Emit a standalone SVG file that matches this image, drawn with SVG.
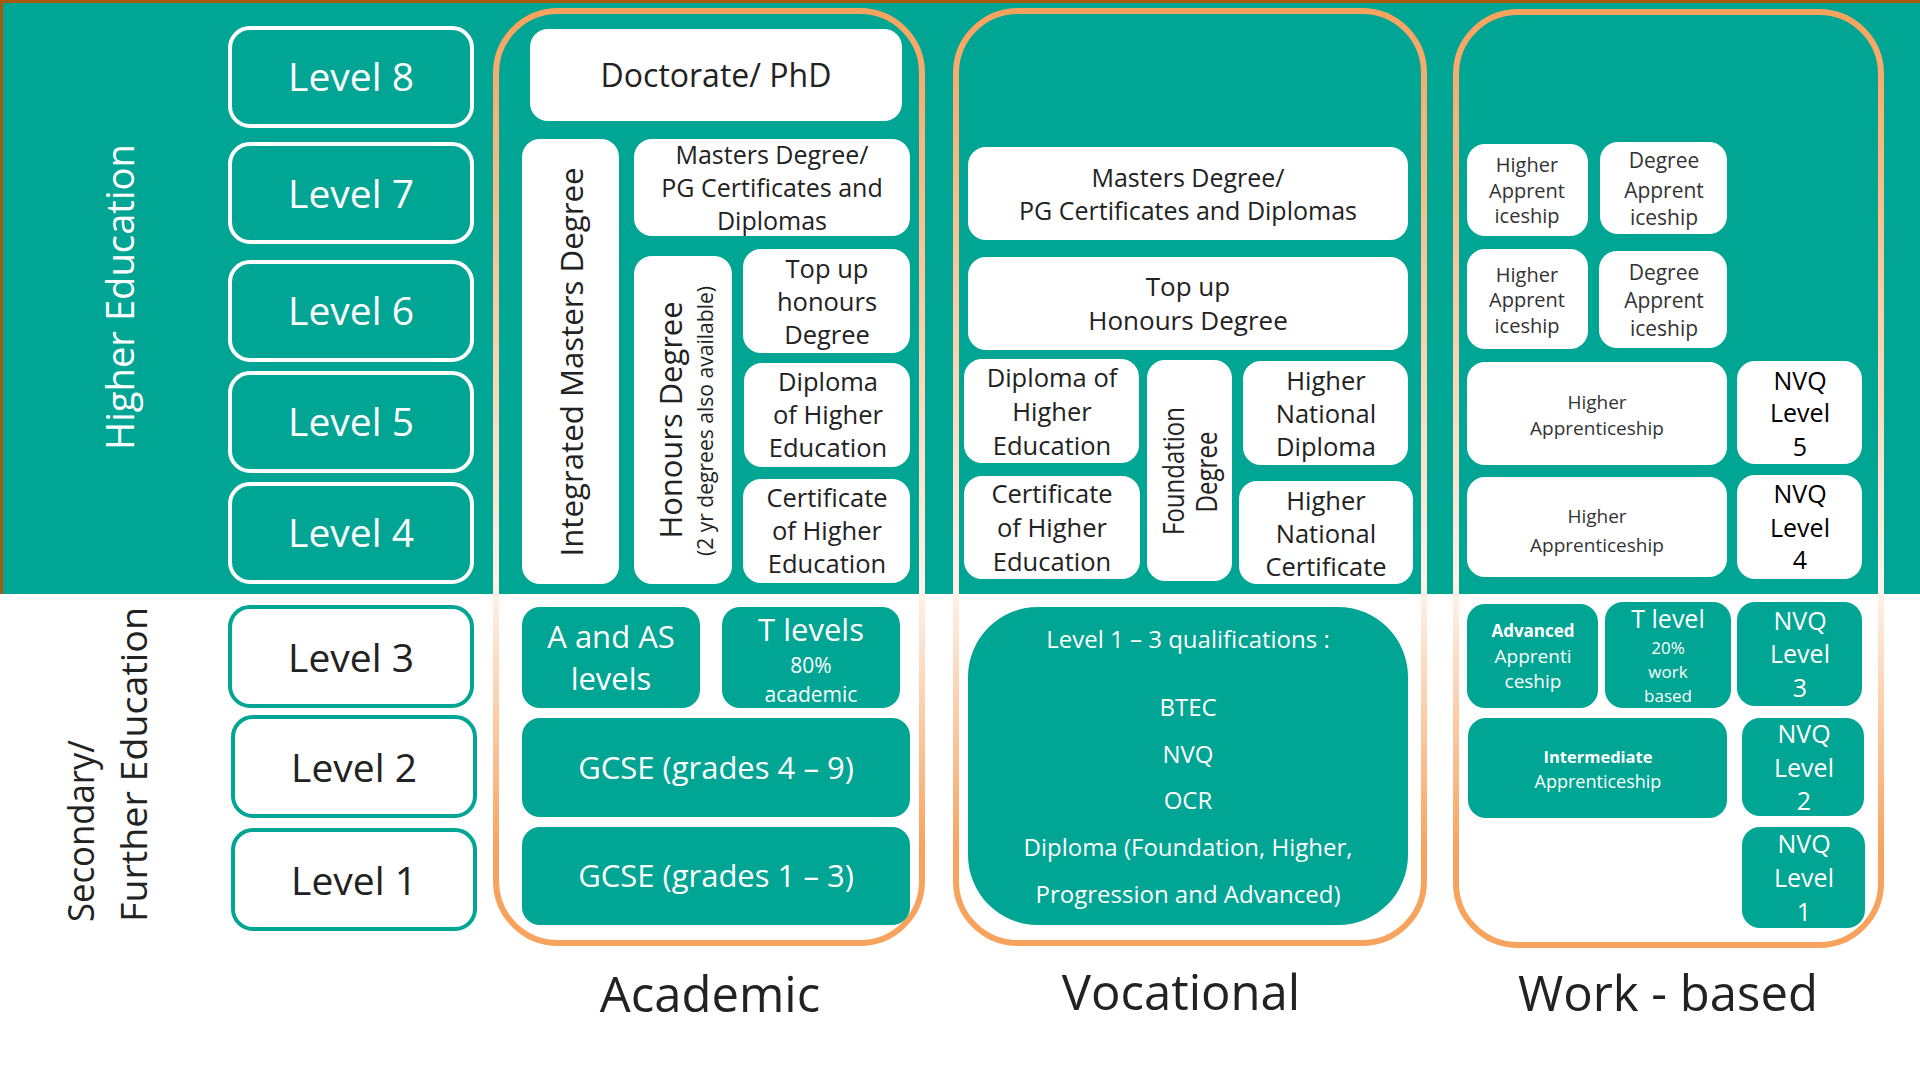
<svg xmlns="http://www.w3.org/2000/svg" width="1920" height="1080" viewBox="0 0 1920 1080">
<defs>
<linearGradient id="fg" gradientUnits="userSpaceOnUse" x1="0" y1="10" x2="0" y2="945">
<stop offset="0" stop-color="#F7A35E"/>
<stop offset="0.62" stop-color="#FEF3EB"/>
<stop offset="0.9" stop-color="#F7A35E"/>
<stop offset="1" stop-color="#F7A35E"/>
</linearGradient>
<style>
text{font-family:"Open Sans","DejaVu Sans",sans-serif}
.m{text-anchor:middle}
.d{fill:#222}
.k{fill:#000}
.g{fill:#333}
.w{fill:#fff}
.b{font-weight:bold}
.wbox{fill:#fff}
.tbox{fill:#00A593}
.lu{fill:none;stroke:#fff;stroke-width:4}
.ll{fill:#fff;stroke:#00A593;stroke-width:4}
.frame{fill:none;stroke:url(#fg);stroke-width:6}
</style>
</defs>
<rect x="0" y="0" width="1920" height="1080" fill="#fff"/>
<rect x="0" y="0" width="1920" height="594" fill="#00A593"/>
<rect x="0" y="0" width="1920" height="3" fill="#A65A0A"/>
<rect x="0" y="0" width="3" height="594" fill="#A65A0A"/>

<g id="section-labels">
<text class="w m" font-size="38" transform="translate(134,297) rotate(-90)" textLength="306" lengthAdjust="spacingAndGlyphs">Higher Education</text>
<text class="d" font-size="37" transform="translate(94,922) rotate(-90)" textLength="182" lengthAdjust="spacingAndGlyphs">Secondary/</text>
<text class="d" font-size="37" transform="translate(147,922) rotate(-90)" textLength="315" lengthAdjust="spacingAndGlyphs">Further Education</text>
</g>

<g id="levels">
<g id="level8"><rect class="lu" x="230" y="28" width="242" height="98" rx="20"/><text class="w m" x="351" y="91" font-size="39">Level 8</text></g>
<g id="level7"><rect class="lu" x="230" y="144" width="242" height="98" rx="20"/><text class="w m" x="351" y="208" font-size="39">Level 7</text></g>
<g id="level6"><rect class="lu" x="230" y="262" width="242" height="98" rx="20"/><text class="w m" x="351" y="325" font-size="39">Level 6</text></g>
<g id="level5"><rect class="lu" x="230" y="373" width="242" height="98" rx="20"/><text class="w m" x="351" y="436" font-size="39">Level 5</text></g>
<g id="level4"><rect class="lu" x="230" y="484" width="242" height="98" rx="20"/><text class="w m" x="351" y="547" font-size="39">Level 4</text></g>
<g id="level3"><rect class="ll" x="230" y="607" width="242" height="99" rx="20"/><text class="d m" x="351" y="672" font-size="39">Level 3</text></g>
<g id="level2"><rect class="ll" x="233" y="717" width="242" height="99" rx="20"/><text class="d m" x="354" y="782" font-size="39">Level 2</text></g>
<g id="level1"><rect class="ll" x="233" y="830" width="242" height="99" rx="20"/><text class="d m" x="354" y="895" font-size="39">Level 1</text></g>
</g>

<g id="frames">
<rect id="frame-academic" class="frame" x="496" y="11" width="426" height="932" rx="62"/>
<rect id="frame-vocational" class="frame" x="956" y="11" width="468" height="932" rx="62"/>
<rect id="frame-work" class="frame" x="1456" y="12" width="425" height="933" rx="62"/>
</g>

<g id="academic">
<g id="doctorate"><rect class="wbox" x="530" y="29" width="372" height="92" rx="18"/><text class="d m" x="716" y="87" font-size="32">Doctorate/ PhD</text></g>
<g id="integrated-masters"><rect class="wbox" x="522" y="139" width="97" height="445" rx="18"/><text class="d m" font-size="31.5" transform="translate(583,362) rotate(-90)" textLength="389" lengthAdjust="spacingAndGlyphs">Integrated Masters Degree</text></g>
<g id="ac-masters"><rect class="wbox" x="634" y="139" width="276" height="97" rx="18"/><text class="d m" font-size="25"><tspan x="772" y="164">Masters Degree/</tspan><tspan x="772" y="197">PG Certificates and</tspan><tspan x="772" y="230">Diplomas</tspan></text></g>
<g id="honours"><rect class="wbox" x="634" y="256" width="98" height="328" rx="18"/><text class="d m" font-size="31" transform="translate(682,420) rotate(-90)" textLength="237" lengthAdjust="spacingAndGlyphs">Honours Degree</text><text class="d m" font-size="21" transform="translate(713,421) rotate(-90)" textLength="270" lengthAdjust="spacingAndGlyphs">(2 yr degrees also available)</text></g>
<g id="ac-topup"><rect class="wbox" x="743" y="249" width="167" height="104" rx="18"/><text class="d m" font-size="25.5"><tspan x="827" y="278">Top up</tspan><tspan x="827" y="311">honours</tspan><tspan x="827" y="344">Degree</tspan></text></g>
<g id="ac-diphe"><rect class="wbox" x="744" y="363" width="166" height="104" rx="18"/><text class="d m" font-size="25.5"><tspan x="828" y="391">Diploma</tspan><tspan x="828" y="424">of Higher</tspan><tspan x="828" y="457">Education</tspan></text></g>
<g id="ac-certhe"><rect class="wbox" x="743" y="479" width="167" height="104" rx="18"/><text class="d m" font-size="25.5"><tspan x="827" y="507">Certificate</tspan><tspan x="827" y="540">of Higher</tspan><tspan x="827" y="573">Education</tspan></text></g>
<g id="a-levels"><rect class="tbox" x="522" y="607" width="178" height="101" rx="18"/><text class="w m" font-size="31"><tspan x="611" y="648">A and AS</tspan><tspan x="611" y="690">levels</tspan></text></g>
<g id="t-levels"><rect class="tbox" x="722" y="607" width="178" height="101" rx="18"/><text class="w m" x="811" y="641" font-size="31">T levels</text><text class="w m" font-size="21"><tspan x="811" y="673">80%</tspan><tspan x="811" y="702">academic</tspan></text></g>
<g id="gcse-4-9"><rect class="tbox" x="522" y="718" width="388" height="99" rx="18"/><text class="w m" x="716" y="779" font-size="31">GCSE (grades 4 – 9)</text></g>
<g id="gcse-1-3"><rect class="tbox" x="522" y="827" width="388" height="98" rx="18"/><text class="w m" x="716" y="887" font-size="31">GCSE (grades 1 – 3)</text></g>
<text id="label-academic" class="d m" x="710" y="1012" font-size="49">Academic</text>
</g>

<g id="vocational">
<g id="vo-masters"><rect class="wbox" x="968" y="147" width="440" height="93" rx="18"/><text class="d m" font-size="25"><tspan x="1188" y="187">Masters Degree/</tspan><tspan x="1188" y="220">PG Certificates and Diplomas</tspan></text></g>
<g id="vo-topup"><rect class="wbox" x="968" y="257" width="440" height="93" rx="18"/><text class="d m" font-size="26"><tspan x="1188" y="296">Top up</tspan><tspan x="1188" y="330">Honours Degree</tspan></text></g>
<g id="vo-diphe"><rect class="wbox" x="964" y="359" width="175" height="104" rx="18"/><text class="d m" font-size="25.5"><tspan x="1052" y="387">Diploma of</tspan><tspan x="1052" y="421">Higher</tspan><tspan x="1052" y="455">Education</tspan></text></g>
<g id="vo-certhe"><rect class="wbox" x="964" y="476" width="176" height="103" rx="18"/><text class="d m" font-size="25.5"><tspan x="1052" y="503">Certificate</tspan><tspan x="1052" y="537">of Higher</tspan><tspan x="1052" y="571">Education</tspan></text></g>
<g id="foundation"><rect class="wbox" x="1147" y="360" width="85" height="221" rx="18"/><text class="d m" font-size="24" transform="translate(1184,471) rotate(-90) scale(1,1.2)" textLength="128" lengthAdjust="spacingAndGlyphs">Foundation</text><text class="d m" font-size="24" transform="translate(1217,472) rotate(-90) scale(1,1.2)" textLength="81" lengthAdjust="spacingAndGlyphs">Degree</text></g>
<g id="hnd"><rect class="wbox" x="1243" y="361" width="165" height="104" rx="18"/><text class="d m" font-size="25.5"><tspan x="1326" y="390">Higher</tspan><tspan x="1326" y="423">National</tspan><tspan x="1326" y="456">Diploma</tspan></text></g>
<g id="hnc"><rect class="wbox" x="1239" y="481" width="174" height="103" rx="18"/><text class="d m" font-size="25.5"><tspan x="1326" y="510">Higher</tspan><tspan x="1326" y="543">National</tspan><tspan x="1326" y="576">Certificate</tspan></text></g>
<g id="vo-lower"><rect class="tbox" x="968" y="607" width="440" height="318" rx="70"/><text class="w m" font-size="24"><tspan x="1188" y="648">Level 1 – 3 qualifications :</tspan><tspan x="1188" y="716">BTEC</tspan><tspan x="1188" y="763">NVQ</tspan><tspan x="1188" y="809">OCR</tspan><tspan x="1188" y="856">Diploma (Foundation, Higher,</tspan><tspan x="1188" y="903">Progression and Advanced)</tspan></text></g>
<text id="label-vocational" class="d m" x="1181" y="1010" font-size="49">Vocational</text>
</g>

<g id="work-based">
<g id="wb-ha1"><rect class="wbox" x="1467" y="144" width="121" height="92" rx="18"/><text class="g m" font-size="20"><tspan x="1527" y="172">Higher</tspan><tspan x="1527" y="198">Apprent</tspan><tspan x="1527" y="223">iceship</tspan></text></g>
<g id="wb-da1"><rect class="wbox" x="1600" y="142" width="127" height="92" rx="18"/><text class="g m" font-size="21"><tspan x="1664" y="168">Degree</tspan><tspan x="1664" y="198">Apprent</tspan><tspan x="1664" y="225">iceship</tspan></text></g>
<g id="wb-ha2"><rect class="wbox" x="1467" y="249" width="121" height="100" rx="18"/><text class="g m" font-size="20"><tspan x="1527" y="282">Higher</tspan><tspan x="1527" y="307">Apprent</tspan><tspan x="1527" y="333">iceship</tspan></text></g>
<g id="wb-da2"><rect class="wbox" x="1599" y="251" width="128" height="97" rx="18"/><text class="g m" font-size="21"><tspan x="1664" y="280">Degree</tspan><tspan x="1664" y="308">Apprent</tspan><tspan x="1664" y="336">iceship</tspan></text></g>
<g id="wb-ha5"><rect class="wbox" x="1467" y="362" width="260" height="103" rx="18"/><text class="g m" font-size="19"><tspan x="1597" y="409">Higher</tspan><tspan x="1597" y="435">Apprenticeship</tspan></text></g>
<g id="nvq5"><rect class="wbox" x="1737" y="361" width="125" height="103" rx="18"/><text class="k m" font-size="25"><tspan x="1800" y="390">NVQ</tspan><tspan x="1800" y="422">Level</tspan><tspan x="1800" y="456">5</tspan></text></g>
<g id="wb-ha4"><rect class="wbox" x="1467" y="477" width="260" height="100" rx="18"/><text class="g m" font-size="19"><tspan x="1597" y="523">Higher</tspan><tspan x="1597" y="552">Apprenticeship</tspan></text></g>
<g id="nvq4"><rect class="wbox" x="1737" y="475" width="125" height="104" rx="18"/><text class="k m" font-size="25"><tspan x="1800" y="503">NVQ</tspan><tspan x="1800" y="537">Level</tspan><tspan x="1800" y="569">4</tspan></text></g>
<g id="advanced"><rect class="tbox" x="1467" y="604" width="131" height="104" rx="18"/><text class="w m b" x="1533" y="637" font-size="17">Advanced</text><text class="w m" font-size="19"><tspan x="1533" y="663">Apprenti</tspan><tspan x="1533" y="688">ceship</tspan></text></g>
<g id="t-level"><rect class="tbox" x="1605" y="602" width="126" height="106" rx="18"/><text class="w m" x="1668" y="628" font-size="25">T level</text><text class="w m" font-size="17"><tspan x="1668" y="654">20%</tspan><tspan x="1668" y="678">work</tspan><tspan x="1668" y="702">based</tspan></text></g>
<g id="nvq3"><rect class="tbox" x="1737" y="602" width="125" height="104" rx="18"/><text class="w m" font-size="25"><tspan x="1800" y="630">NVQ</tspan><tspan x="1800" y="663">Level</tspan><tspan x="1800" y="697">3</tspan></text></g>
<g id="intermediate"><rect class="tbox" x="1468" y="718" width="259" height="100" rx="18"/><text class="w m b" x="1598" y="763" font-size="16.5">Intermediate</text><text class="w m" x="1598" y="788" font-size="18">Apprenticeship</text></g>
<g id="nvq2"><rect class="tbox" x="1742" y="718" width="122" height="98" rx="18"/><text class="w m" font-size="25"><tspan x="1804" y="743">NVQ</tspan><tspan x="1804" y="777">Level</tspan><tspan x="1804" y="810">2</tspan></text></g>
<g id="nvq1"><rect class="tbox" x="1742" y="827" width="123" height="101" rx="18"/><text class="w m" font-size="25"><tspan x="1804" y="853">NVQ</tspan><tspan x="1804" y="887">Level</tspan><tspan x="1804" y="921">1</tspan></text></g>
<text id="label-work" class="d m" x="1668" y="1011" font-size="49">Work - based</text>
</g>

<g id="connectors"/>
</svg>
